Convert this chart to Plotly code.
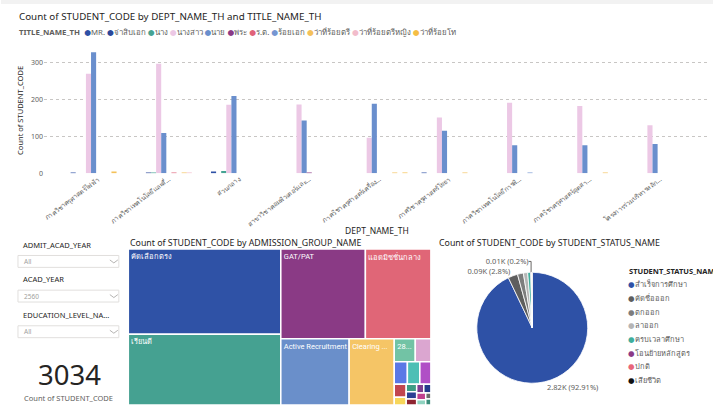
import plotly.graph_objects as go

W, H = 713, 410

# ---------------- data: bar chart ----------------
dept_labels = ["ภาควิชาครุศาสตร์ไฟฟ้า", "ภาควิชาเทคโนโลยีและสื่...", "ส่วนกลาง",
               "สาขาวิชาคอมพิวเตอร์และ...", "ภาควิชาครุศาสตร์เครื่อง...", "ภาควิชาครุศาสตร์โยธา",
               "ภาควิชาเทคโนโลยีการพิ...", "ภาควิชาครุศาสตร์อุตสา...", "โครงการร่วมบริหารหลัก..."]
title_names = ["MR.", "จ่าสิบเอก", "นาง", "นางสาว", "นาย", "พระ", "ร.ต.", "ร้อยเอก",
               "ว่าที่ร้อยตรี", "ว่าที่ร้อยตรีหญิง", "ว่าที่ร้อยโท"]
title_colors = ["#2E51A6", "#2A4799", "#45A393", "#ECC8E5", "#6A8FCD", "#8B3A86",
                "#E0637A", "#7596D2", "#F4C15A", "#F2BCCB", "#F5BE45"]
cnt_mr = [2, 0, 4, 0, 0, 1, 0, 0, 0]
cnt_sgt = [0, 2, 0, 0, 0, 0, 0, 0, 0]
cnt_mrs = [0, 2, 6, 0, 0, 0, 0, 0, 0]
cnt_miss = [269, 296, 185, 186, 96, 151, 191, 182, 130]
cnt_mr_th = [327, 109, 209, 143, 188, 115, 76, 76, 79]
cnt_monk = [0, 0, 0, 2, 0, 0, 0, 0, 0]
cnt_lt = [0, 2, 0, 0, 0, 0, 0, 0, 0]
cnt_capt = [0, 0, 0, 0, 0, 0, 1, 0, 0]
cnt_actlt = [3, 2, 0, 0, 1, 1, 0, 1, 0]
cnt_actlt_f = [0, 2, 0, 0, 0, 0, 0, 0, 0]
cnt_actlt2 = [0, 0, 0, 0, 1, 0, 0, 0, 0]
series_counts = [cnt_mr, cnt_sgt, cnt_mrs, cnt_miss, cnt_mr_th, cnt_monk, cnt_lt,
                 cnt_capt, cnt_actlt, cnt_actlt_f, cnt_actlt2]
y_ticks = [0, 100, 200, 300]

# ---------------- data: treemap ----------------
adm_names = ["คัดเลือกตรง", "เรียนดี", "GAT/PAT", "แอดมิชชั่นกลาง", "Active Recruitment",
             "Clearing House", "28 โครงการพิเศษ", "โควตาพื้นที่", "ความสามารถพิเศษ", "Portfolio",
             "โควตาโรงเรียน", "ทุนเพชรพระจอมเกล้า", "รับตรงร่วมกัน", "นักกีฬา", "ช้างเผือก",
             "ต่อเนื่อง", "เทียบโอน", "วิศวกรรมสัญจร", "ทุนบริษัท", "สอบตรง", "โอนย้าย", "อื่นๆ"]
adm_counts = [835, 694, 488, 378, 291, 192, 31, 23, 19, 18, 16, 10, 6, 5, 5, 4, 4, 4, 4, 3, 2, 2]
adm_text = ["คัดเลือกตรง", "เรียนดี", "GAT/PAT", "แอดมิชชั่นกลาง", "Active Recruitment",
            "Clearing ...", "28...", "", "", "", "", "", "", "", "", "", "", "", "", "", "", ""]
adm_colors = ["#2F52A6", "#45A191", "#8A3A85", "#E06677", "#6A8FCA", "#F5C566", "#72C3A5",
              "#DBA6D0", "#5A78E6", "#4DBFB5", "#B04FC6", "#C1454F", "#F7D65A", "#3E9C84",
              "#2B3F94", "#8E2531", "#7E3C8F", "#253A8A", "#C1418E", "#8FD3C0", "#6B6B6B", "#3A8C7A"]

# ---------------- data: pie ----------------
status_names = ["สำเร็จการศึกษา", "คัดชื่อออก", "ตกออก", "ลาออก", "ครบเวลาศึกษา",
                "โอนย้ายหลักสูตร", "ปกติ", "เสียชีวิต"]
status_counts = [2819, 85, 52, 38, 27, 6, 5, 2]
status_colors = ["#2E51A6", "#5E5E5E", "#7D7D7D", "#B5B5B5", "#3FAE9C", "#8B3A86", "#E8667A", "#111111"]
status_show_label = [True, True, False, False, False, True, False, False]

slicer_titles = ["ADMIT_ACAD_YEAR", "ACAD_YEAR", "EDUCATION_LEVEL_NA..."]
slicer_values = ["All", "2560", "All"]

total_students = sum(status_counts)

# ---------------- helpers ----------------
def px(x):
    return x / W

def py(y):
    return 1 - y / H

FONT = "Noto Sans, DejaVu Sans, sans-serif"
NARROW = "Roboto, Noto Sans, sans-serif"
DARK = "#252423"
GREY = "#605E5C"

fig = go.Figure()

for name, color, vals in zip(title_names, title_colors, series_counts):
    fig.add_trace(go.Bar(x=dept_labels, y=vals, name=name, marker_color=color,
                         marker_line_width=0, showlegend=False))

# treemap
fig.add_trace(go.Treemap(
    labels=adm_names, parents=[""] * len(adm_names), values=adm_counts,
    text=adm_text, texttemplate="%{text}", textposition="top left",
    textfont=dict(size=7.5, color="white", family=NARROW),
    sort=True,
    marker=dict(colors=adm_colors, line=dict(color="white", width=1.5),
                pad=dict(t=0, l=0, r=0, b=0)),
    tiling=dict(packing="squarify", squarifyratio=1.618, pad=0),
    pathbar=dict(visible=False), root=dict(color="white"),
    domain=dict(x=[px(127.5), px(430.5)], y=[py(409), py(251.5)]),
    hoverinfo="label+value",
))

# pie
pie_text = []
for v, show in zip(status_counts, status_show_label):
    if show:
        pct = f"{100 * v / total_students:.2f}".rstrip("0").rstrip(".")
        pie_text.append(f"{v / 1000:.2f}K ({pct}%)")
    else:
        pie_text.append("")
fig.add_trace(go.Pie(
    labels=status_names, values=status_counts, sort=False, direction="clockwise", rotation=0,
    marker=dict(colors=status_colors, line=dict(color="white", width=0.8)),
    text=pie_text, textinfo="text", textposition="outside",
    textfont=dict(size=7.5, color=GREY, family=FONT),
    domain=dict(x=[px(476), px(588)], y=[py(387), py(275)]),
    showlegend=False, hoverinfo="label+value+percent",
))

annotations = []
shapes = []

# top grey band
shapes.append(dict(type="rect", xref="paper", yref="paper", x0=0, x1=1, y0=py(4), y1=1,
                   fillcolor="#F2F2F2", line_width=0, layer="below"))

# bar chart title and legend
annotations.append(dict(text="Count of STUDENT_CODE by DEPT_NAME_TH and TITLE_NAME_TH",
                        x=px(16), y=py(17), xref="paper", yref="paper", xanchor="left",
                        yanchor="middle", showarrow=False, font=dict(size=9.8, color=DARK, family=FONT)))
leg = "<b>TITLE_NAME_TH</b>  " + " ".join(
    f"<span style='color:{c}'>●</span>{n}" for n, c in zip(title_names, title_colors))
annotations.append(dict(text=leg, x=px(16), y=py(32), xref="paper", yref="paper", xanchor="left",
                        yanchor="middle", showarrow=False, font=dict(size=7.8, color=GREY, family=FONT)))

# treemap & pie titles
annotations.append(dict(text="Count of STUDENT_CODE by ADMISSION_GROUP_NAME", x=px(127), y=py(245),
                        xref="paper", yref="paper", xanchor="left", yanchor="middle", showarrow=False,
                        font=dict(size=8.8, color=DARK, family=FONT)))
annotations.append(dict(text="Count of STUDENT_CODE by STUDENT_STATUS_NAME", x=px(437), y=py(245),
                        xref="paper", yref="paper", xanchor="left", yanchor="middle", showarrow=False,
                        font=dict(size=8.8, color=DARK, family=FONT)))

# pie legend
annotations.append(dict(text="<b>STUDENT_STATUS_NAME</b>", x=px(627), y=py(274), xref="paper",
                        yref="paper", xanchor="left", yanchor="middle", showarrow=False,
                        font=dict(size=7.5, color=DARK, family=FONT)))
for i, (n, c) in enumerate(zip(status_names, status_colors)):
    annotations.append(dict(text=f"<span style='color:{c}'>●</span>{n}", x=px(626),
                            y=py(287 + 13.8 * i), xref="paper", yref="paper", xanchor="left",
                            yanchor="middle", showarrow=False,
                            font=dict(size=7.5, color=GREY, family=FONT)))

# slicers
slicer_rows = [(247, 258), (282, 293), (318, 329)]
for (ty, by), t, v in zip(slicer_rows, slicer_titles, slicer_values):
    annotations.append(dict(text=t, x=px(20), y=py(ty), xref="paper", yref="paper", xanchor="left",
                            yanchor="middle", showarrow=False, font=dict(size=7.5, color=DARK, family=FONT)))
    shapes.append(dict(type="rect", xref="paper", yref="paper", x0=px(17), x1=px(118),
                       y0=py(by + 12), y1=py(by), line=dict(color="#E1DFDD", width=1), fillcolor="white"))
    annotations.append(dict(text=v, x=px(21), y=py(by + 6), xref="paper", yref="paper", xanchor="left",
                            yanchor="middle", showarrow=False, font=dict(size=6.5, color="#A19F9D", family=FONT)))
    shapes.append(dict(type="path", xref="paper", yref="paper",
                       path=f"M {px(109)} {py(by + 4.5)} L {px(113)} {py(by + 7.5)} L {px(117)} {py(by + 4.5)}",
                       line=dict(color="#A19F9D", width=0.8)))

# card
annotations.append(dict(text=f"{total_students}", x=px(69), y=py(378), xref="paper", yref="paper",
                        xanchor="center", yanchor="middle", showarrow=False,
                        font=dict(size=27.5, color=DARK, family=FONT)))
annotations.append(dict(text="Count of STUDENT_CODE", x=px(68), y=py(402), xref="paper", yref="paper",
                        xanchor="center", yanchor="middle", showarrow=False,
                        font=dict(size=7.5, color=GREY, family=FONT)))

fig.update_layout(
    width=W, height=H, autosize=False, margin=dict(l=0, r=0, t=0, b=0),
    paper_bgcolor="white", plot_bgcolor="white",
    barmode="group", bargap=0.2, bargroupgap=0,
    showlegend=False,
    font=dict(family=FONT, size=8, color=GREY),
    uniformtext=dict(minsize=7.5, mode="show"),
    xaxis=dict(domain=[px(43), px(710)], range=[-0.78, 8.71], tickangle=-37,
               tickfont=dict(size=6.5, color=GREY), showgrid=False, showline=False, ticks="",
               title=dict(text="DEPT_NAME_TH", font=dict(size=8.5, color=DARK), standoff=0)),
    yaxis=dict(domain=[py(175), py(48)], range=[0, 340], tickvals=y_ticks, showgrid=True,
               gridcolor="#C8C6C4", griddash="dot", gridwidth=1, zeroline=False, showline=False,
               tickfont=dict(size=7, color=GREY),
               title=dict(text="Count of STUDENT_CODE", font=dict(size=7.5, color=DARK), standoff=6)),
    annotations=annotations, shapes=shapes,
)

fig.write_html("out.html")
